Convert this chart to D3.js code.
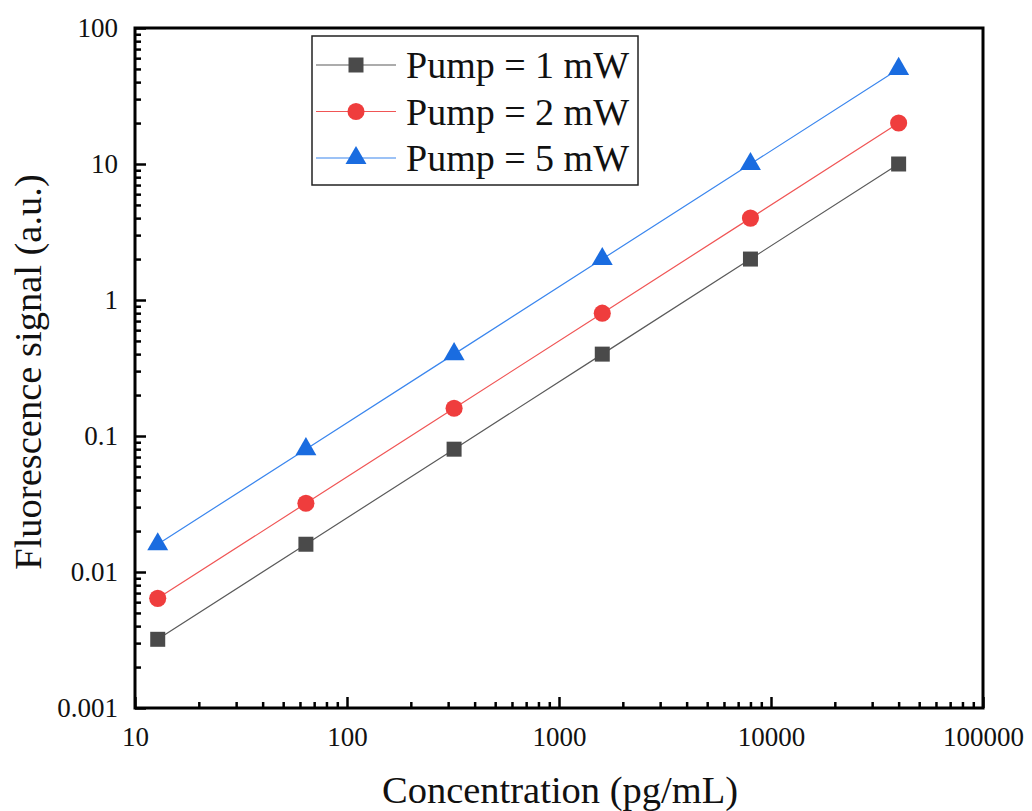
<!DOCTYPE html>
<html>
<head>
<meta charset="utf-8">
<script src="https://cdn.jsdelivr.net/npm/d3@7"></script>
<style>
  body { margin: 0; background: #fff; }
</style>
</head>
<body>
<div id="stage"></div>
<script>
// chart data
var concentrations = [12.8, 64, 320, 1600, 8000, 40000];
var series_names = ["Pump = 1 mW", "Pump = 2 mW", "Pump = 5 mW"];
var pump1 = [0.0032, 0.016, 0.08, 0.4, 2, 10];
var pump2 = [0.0064, 0.032, 0.16, 0.8, 4, 20];
var pump5 = [0.016, 0.08, 0.4, 2, 10, 50];
var x_ticks = [10, 100, 1000, 10000, 100000];
var y_ticks = [0.001, 0.01, 0.1, 1, 10, 100];
var y_tick_labels = ["0.001", "0.01", "0.1", "1", "10", "100"];

var stage_width = 1032;
var stage_height = 811;
var serif = "'Liberation Serif', 'Times New Roman', 'DejaVu Serif', serif";

var margin = { top: 28, right: 49, bottom: 103, left: 135 };
var chart_width = stage_width - margin.left - margin.right;
var chart_height = stage_height - margin.top - margin.bottom;

var svg = d3.select("#stage")
  .append("svg")
  .attr("width", stage_width)
  .attr("height", stage_height);

var g = svg.append("g")
  .attr("transform", "translate(" + margin.left + "," + margin.top + ")");

var x = d3.scaleLog().domain([10, 100000]).range([0, chart_width]);
var y = d3.scaleLog().domain([0.001, 100]).range([chart_height, 0]);

// minor ticks 2..9 per decade
function minor_ticks(lo, hi) {
  var out = [];
  for (var p = Math.round(Math.log10(lo)); p < Math.round(Math.log10(hi)); p++) {
    for (var m = 2; m <= 9; m++) out.push(m * Math.pow(10, p));
  }
  return out;
}

// x axis
var xAxis = g.append("g").attr("transform", "translate(0," + chart_height + ")");
xAxis.call(d3.axisBottom(x).tickValues(x_ticks).tickFormat(d3.format("d")).tickSize(-11).tickPadding(19));
xAxis.append("g").call(d3.axisBottom(x).tickValues(minor_ticks(10, 100000)).tickFormat("").tickSize(-6));

// y axis
var yAxis = g.append("g");
yAxis.call(d3.axisLeft(y).tickValues(y_ticks).tickFormat(function(d, i) { return y_tick_labels[i]; }).tickSize(-11).tickPadding(17));
yAxis.append("g").call(d3.axisLeft(y).tickValues(minor_ticks(0.001, 100)).tickFormat("").tickSize(-6));

g.selectAll(".domain").remove();
g.selectAll(".tick line").attr("stroke", "#000").attr("stroke-width", 2.5);
g.selectAll(".tick text")
  .attr("font-family", serif)
  .attr("font-size", 27)
  .attr("fill", "#111");

// frame
g.append("rect")
  .attr("width", chart_width)
  .attr("height", chart_height)
  .attr("fill", "none")
  .attr("stroke", "#000")
  .attr("stroke-width", 3);

var series = [
  { name: series_names[0], values: pump1, line: "#5a5a5a", fill: "#4a4a4a", shape: d3.symbolSquare, size: 225 },
  { name: series_names[1], values: pump2, line: "#f05555", fill: "#ef3d3d", shape: d3.symbolCircle, size: 230 },
  { name: series_names[2], values: pump5, line: "#3a86ee", fill: "#1a6ce0", shape: d3.symbolTriangle, size: 190 }
];

var line = d3.line()
  .x(function(d) { return x(d[0]); })
  .y(function(d) { return y(d[1]); });

series.forEach(function(s) {
  var pts = concentrations.map(function(c, i) { return [c, s.values[i]]; });
  g.append("path")
    .attr("d", line(pts))
    .attr("fill", "none")
    .attr("stroke", s.line)
    .attr("stroke-width", 1.2);
  g.selectAll(null)
    .data(pts)
    .enter()
    .append("path")
    .attr("d", d3.symbol().type(s.shape).size(s.size))
    .attr("transform", function(d) { return "translate(" + x(d[0]) + "," + y(d[1]) + ")"; })
    .attr("fill", s.fill);
});

// legend
var legend = svg.append("g").attr("transform", "translate(312,36)");
legend.append("rect")
  .attr("width", 326)
  .attr("height", 149)
  .attr("fill", "#fff")
  .attr("stroke", "#222")
  .attr("stroke-width", 1.5);
series.forEach(function(s, i) {
  var row = legend.append("g").attr("transform", "translate(0," + (29 + i * 46.5) + ")");
  row.append("line")
    .attr("x1", 4).attr("x2", 84)
    .attr("stroke", s.line).attr("stroke-width", 1.2);
  row.append("path")
    .attr("d", d3.symbol().type(s.shape).size(s.size))
    .attr("transform", "translate(44,0)")
    .attr("fill", s.fill);
  row.append("text")
    .attr("x", 94)
    .attr("dy", "0.35em")
    .attr("font-family", serif)
    .attr("font-size", 38)
    .attr("fill", "#111")
    .text(s.name);
});

// axis titles
svg.append("text")
  .attr("x", 560)
  .attr("y", 803)
  .attr("text-anchor", "middle")
  .attr("font-family", serif)
  .attr("font-size", 38.5)
  .attr("fill", "#111")
  .text("Concentration (pg/mL)");

svg.append("text")
  .attr("transform", "translate(41,372) rotate(-90)")
  .attr("text-anchor", "middle")
  .attr("font-family", serif)
  .attr("font-size", 38.5)
  .attr("fill", "#111")
  .text("Fluorescence signal (a.u.)");
</script>
</body>
</html>
